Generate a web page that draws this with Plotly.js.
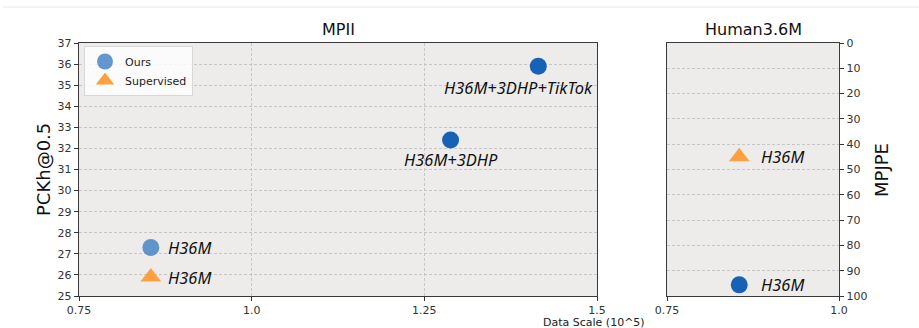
<!DOCTYPE html>
<html>
<head>
<meta charset="utf-8">
<script src="https://cdn.plot.ly/plotly-3.0.1.min.js"></script>
<style>html,body{margin:0;padding:0;background:#fff;}#chart{width:919px;height:328px;}</style>
</head>
<body>
<div id="chart"></div>
<script>
// MPII panel data
const mpiiOursX = [0.854, 1.288, 1.415];
const mpiiOursY = [27.3, 32.4, 35.9];
const mpiiOursLabels = ['H36M', 'H36M+3DHP', 'H36M+3DHP+TikTok'];
const mpiiSupX = [0.854];
const mpiiSupY = [25.9];
const mpiiSupLabels = ['H36M'];
// Human3.6M panel data
const h36mOursX = [0.855];
const h36mOursY = [95.6];
const h36mOursLabels = ['H36M'];
const h36mSupX = [0.855];
const h36mSupY = [45];
const h36mSupLabels = ['H36M'];
// tick labels
const mpiiXTicks = [0.75, 1.0, 1.25, 1.5];
const mpiiXTickText = ['0.75', '1.0', '1.25', '1.5'];
const mpiiYTicks = [25, 26, 27, 28, 29, 30, 31, 32, 33, 34, 35, 36, 37];
const h36mXTicks = [0.75, 1.0];
const h36mXTickText = ['0.75', '1.0'];
const h36mYTicks = [0, 10, 20, 30, 40, 50, 60, 70, 80, 90, 100];

const W = 919, H = 328;
const FONT = 'DejaVu Sans, sans-serif';
const LFONT = 'Noto Sans, Open Sans, sans-serif';
const lightBlue = 'rgba(66,128,196,0.82)';
const darkBlue = '#1762b4';
const orange = '#ffa040';

const traces = [
  {
    x: [mpiiOursX[0]], y: [mpiiOursY[0]], xaxis: 'x', yaxis: 'y',
    type: 'scatter', mode: 'markers', name: 'Ours', showlegend: true,
    marker: {symbol: 'circle', size: 17, color: lightBlue}
  },
  {
    x: mpiiOursX.slice(1), y: mpiiOursY.slice(1), xaxis: 'x', yaxis: 'y',
    type: 'scatter', mode: 'markers', name: 'Ours', showlegend: false,
    marker: {symbol: 'circle', size: 17, color: darkBlue}
  },
  {
    x: mpiiSupX, y: mpiiSupY, xaxis: 'x', yaxis: 'y',
    type: 'scatter', mode: 'markers', name: 'Supervised', showlegend: true,
    marker: {symbol: 'triangle-up', size: 18, color: orange}
  },
  {
    x: h36mOursX, y: h36mOursY, xaxis: 'x2', yaxis: 'y2',
    type: 'scatter', mode: 'markers', showlegend: false,
    marker: {symbol: 'circle', size: 17, color: darkBlue}
  },
  {
    x: h36mSupX, y: h36mSupY, xaxis: 'x2', yaxis: 'y2',
    type: 'scatter', mode: 'markers', showlegend: false,
    marker: {symbol: 'triangle-up', size: 18, color: orange}
  }
];

const labelFont = {family: LFONT, size: 16.5, color: '#111'};
const annotations = [];
// MPII labels
annotations.push({x: mpiiOursX[0], y: mpiiOursY[0], xref: 'x', yref: 'y', text: '<i>' + mpiiOursLabels[0] + '</i>', showarrow: false, xanchor: 'left', xshift: 15, font: labelFont});
annotations.push({x: mpiiOursX[1], y: mpiiOursY[1], xref: 'x', yref: 'y', text: '<i>' + mpiiOursLabels[1] + '</i>', showarrow: false, xanchor: 'center', xshift: 0, yshift: -20, font: labelFont});
annotations.push({x: mpiiOursX[2], y: mpiiOursY[2], xref: 'x', yref: 'y', text: '<i>' + mpiiOursLabels[2] + '</i>', showarrow: false, xanchor: 'right', xshift: 57, yshift: -21, font: labelFont});
annotations.push({x: mpiiSupX[0], y: mpiiSupY[0], xref: 'x', yref: 'y', text: '<i>' + mpiiSupLabels[0] + '</i>', showarrow: false, xanchor: 'left', xshift: 15, font: labelFont});
// Human3.6M labels
annotations.push({x: h36mOursX[0], y: h36mOursY[0], xref: 'x2', yref: 'y2', text: '<i>' + h36mOursLabels[0] + '</i>', showarrow: false, xanchor: 'left', xshift: 20, font: labelFont});
annotations.push({x: h36mSupX[0], y: h36mSupY[0], xref: 'x2', yref: 'y2', text: '<i>' + h36mSupLabels[0] + '</i>', showarrow: false, xanchor: 'left', xshift: 20, font: labelFont});
// titles
annotations.push({x: 338 / W, y: 1 - 30 / H, xref: 'paper', yref: 'paper', text: 'MPII', showarrow: false, xanchor: 'center', yanchor: 'middle', font: {family: FONT, size: 16, color: '#111'}});
annotations.push({x: 753 / W, y: 1 - 30 / H, xref: 'paper', yref: 'paper', text: 'Human3.6M', showarrow: false, xanchor: 'center', yanchor: 'middle', font: {family: FONT, size: 16, color: '#111'}});
annotations.push({x: 43 / W, y: 1 - 170 / H, xref: 'paper', yref: 'paper', text: 'PCKh@0.5', showarrow: false, textangle: -90, xanchor: 'center', yanchor: 'middle', font: {family: FONT, size: 18, color: '#111'}});
annotations.push({x: 881 / W, y: 1 - 170 / H, xref: 'paper', yref: 'paper', text: 'MPJPE', showarrow: false, textangle: -90, xanchor: 'center', yanchor: 'middle', font: {family: FONT, size: 18, color: '#111'}});
annotations.push({x: 594 / W, y: 1 - 322 / H, xref: 'paper', yref: 'paper', text: 'Data Scale (10^5)', showarrow: false, xanchor: 'center', yanchor: 'middle', font: {family: FONT, size: 11, color: '#222'}});

const axisCommon = {
  showline: true, mirror: true, linecolor: '#3a3a3a', linewidth: 1.2,
  ticks: 'outside', ticklen: 4, tickwidth: 1, tickcolor: '#333',
  tickfont: {family: FONT, size: 11, color: '#333'},
  gridcolor: '#bdbdbd', griddash: '3px,2px', gridwidth: 0.8, zeroline: false, fixedrange: true
};

const ydom = [1 - 296 / H, 1 - 43 / H];
const layout = {
  width: W, height: H,
  margin: {l: 0, r: 0, t: 0, b: 0},
  paper_bgcolor: '#ffffff',
  plot_bgcolor: '#edecea',
  showlegend: true,
  legend: {
    x: 84 / W, y: 1 - 46 / H, xanchor: 'left', yanchor: 'top',
    bgcolor: 'rgba(255,255,255,0.8)', bordercolor: '#d8d8d8', borderwidth: 1,
    font: {family: FONT, size: 11, color: '#222'}, tracegroupgap: 0,
    itemwidth: 30
  },
  xaxis: Object.assign({}, axisCommon, {
    domain: [79 / W, 597 / W], range: [0.75, 1.5], tickvals: mpiiXTicks, ticktext: mpiiXTickText,
    showgrid: true, anchor: 'y'
  }),
  yaxis: Object.assign({}, axisCommon, {
    domain: ydom, range: [25, 37], tickvals: mpiiYTicks, showgrid: true, anchor: 'x'
  }),
  xaxis2: Object.assign({}, axisCommon, {
    domain: [667 / W, 839 / W], range: [0.75, 1.0], tickvals: h36mXTicks, ticktext: h36mXTickText,
    showgrid: false, anchor: 'y2'
  }),
  yaxis2: Object.assign({}, axisCommon, {
    domain: ydom, range: [100, 0], tickvals: h36mYTicks, showgrid: true, anchor: 'x2', side: 'right'
  }),
  annotations: annotations,
  shapes: [
    {type: 'line', xref: 'paper', yref: 'paper', x0: 3 / W, x1: 1, y0: 1 - 7 / H, y1: 1 - 7 / H, line: {color: '#efefef', width: 1.5}}
  ]
};

Plotly.newPlot('chart', traces, layout, {staticPlot: true, displayModeBar: false});
</script>
</body>
</html>
